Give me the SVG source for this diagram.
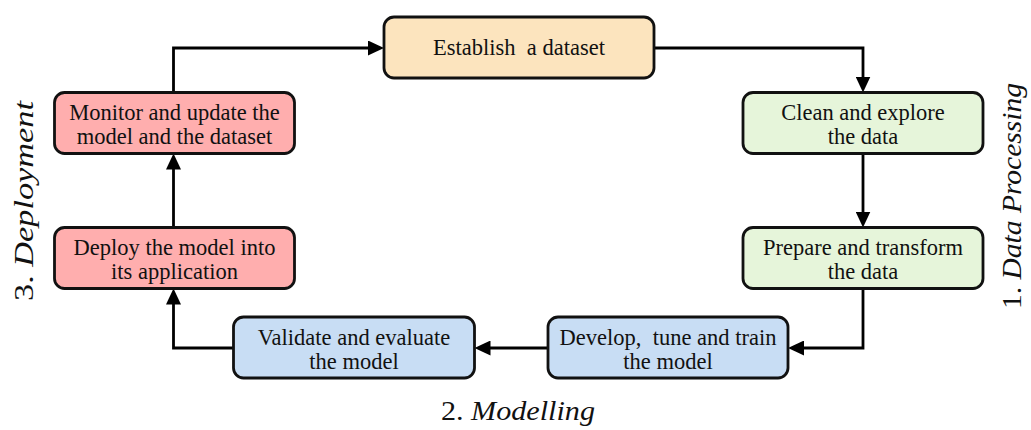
<svg xmlns="http://www.w3.org/2000/svg" width="1031" height="430" viewBox="0 0 1031 430">
<defs>
<marker id="arr" markerUnits="userSpaceOnUse" markerWidth="16" markerHeight="15" refX="10" refY="7.5" orient="auto">
<path d="M0,0 L16,7.5 L0,15 Z" fill="#000"/>
</marker>
<style>
.box{stroke:#111;stroke-width:2.8}
.peach{fill:#FCE4BE}
.green{fill:#E6F5DA}
.blue{fill:#C8DDF4}
.pink{fill:#FFAEAE}
.t{font-family:"Liberation Serif","Times New Roman",serif;font-size:22.5px;fill:#111;text-anchor:middle;white-space:pre}
.ph{font-family:"Liberation Serif","Times New Roman",serif;font-size:28px;fill:#111}
.it{font-style:italic}
.c{fill:none;stroke:#000;stroke-width:2.8;marker-end:url(#arr)}
</style>
</defs>
<rect width="1031" height="430" fill="#fff"/>
<g id="connectors">
<path class="c" d="M173.5,92.5 V48 H378"/>
<path class="c" d="M654,48 H863 V86.5"/>
<path class="c" d="M863,153.5 V221.5"/>
<path class="c" d="M863,288.5 V348 H794"/>
<path class="c" d="M548,348 H480.5"/>
<path class="c" d="M233.5,348 H173.5 V294.5"/>
<path class="c" d="M173.5,227.5 V159.5"/>
</g>
<g id="establish">
<rect class="box peach" x="384" y="17" width="270" height="61" rx="10"/>
<text class="t" x="519" y="55">Establish  a dataset</text>
</g>
<g id="clean">
<rect class="box green" x="743" y="92.5" width="240" height="61" rx="10"/>
<text class="t" x="863" y="119.5">Clean and explore</text>
<text class="t" x="863" y="143.5">the data</text>
</g>
<g id="prepare">
<rect class="box green" x="743" y="227.5" width="240" height="61" rx="10"/>
<text class="t" x="863" y="254.5">Prepare and transform</text>
<text class="t" x="863" y="278.5">the data</text>
</g>
<g id="develop">
<rect class="box blue" x="548" y="317" width="240" height="61" rx="10"/>
<text class="t" x="668" y="344.5">Develop,  tune and train</text>
<text class="t" x="668" y="368.5">the model</text>
</g>
<g id="validate">
<rect class="box blue" x="233.5" y="317" width="241" height="61" rx="10"/>
<text class="t" x="354" y="344.5">Validate and evaluate</text>
<text class="t" x="354" y="368.5">the model</text>
</g>
<g id="deploy">
<rect class="box pink" x="54.5" y="227.5" width="240" height="61" rx="10"/>
<text class="t" x="174.5" y="254.5">Deploy the model into</text>
<text class="t" x="174.5" y="278.5">its application</text>
</g>
<g id="monitor">
<rect class="box pink" x="54.5" y="92.5" width="240" height="61" rx="10"/>
<text class="t" x="174.5" y="119.5">Monitor and update the</text>
<text class="t" x="174.5" y="143.5">model and the dataset</text>
</g>
<g id="phase-labels">
<text class="ph" transform="translate(1021,309) rotate(-90)" textLength="226" lengthAdjust="spacingAndGlyphs">1. <tspan class="it">Data Processing</tspan></text>
<text class="ph" x="441" y="420" textLength="154" lengthAdjust="spacingAndGlyphs">2. <tspan class="it">Modelling</tspan></text>
<text class="ph" transform="translate(33,301) rotate(-90)" textLength="200" lengthAdjust="spacingAndGlyphs">3. <tspan class="it">Deployment</tspan></text>
</g>
</svg>
